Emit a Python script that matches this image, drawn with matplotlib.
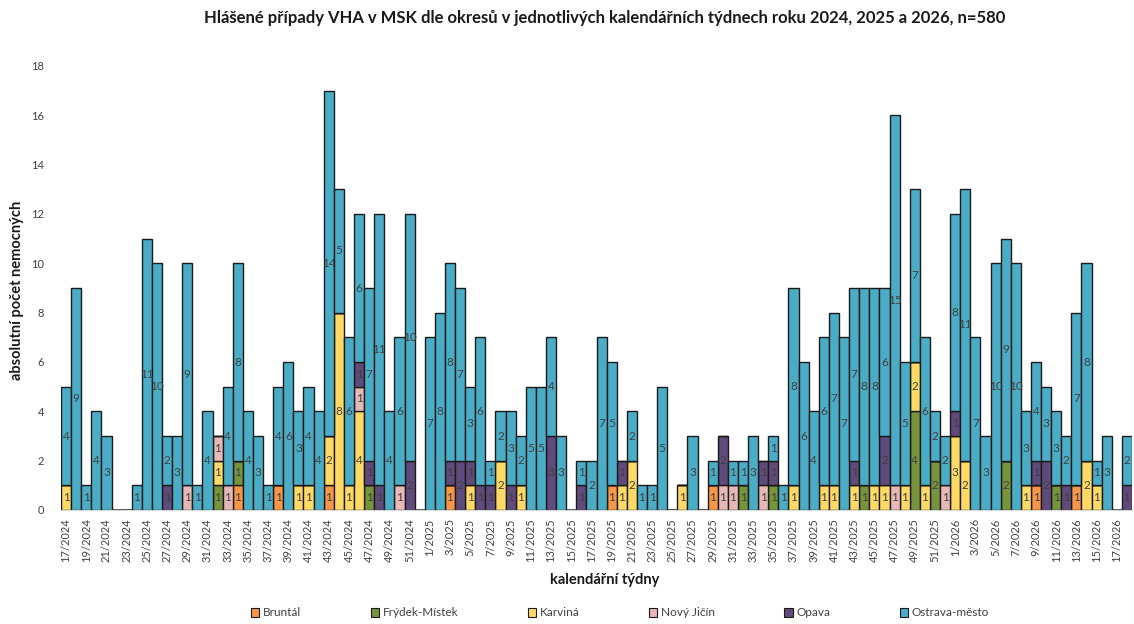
import matplotlib
matplotlib.use("Agg")
import matplotlib.pyplot as plt
from matplotlib.patches import Patch
import numpy as np

plt.rcParams['font.family'] = ['Lato', 'DejaVu Sans']

# ---- categories: weeks 17/2024 .. 18/2026 ----
weeks = ([f"{w}/2024" for w in range(17, 53)] +
         [f"{w}/2025" for w in range(1, 53)] +
         [f"{w}/2026" for w in range(1, 19)])

districts = ["Bruntál", "Frýdek-Místek", "Karviná", "Nový Jičín", "Opava", "Ostrava-město"]
colors = ["#F79646", "#77933C", "#FFD966", "#E6B9B8", "#604A7B", "#4BACC6"]

# ---- 2024, weeks 17..52 ----
bruntal_2024 = [0,0,0,0,0,0,0,0,0,0, 0,0,0,0,0,0,0,1,0,0, 0,1,0,0,0,0,1,0,0,0, 0,0,0,0,0,0]
frydek_2024  = [0,0,0,0,0,0,0,0,0,0, 0,0,0,0,0,1,0,1,0,0, 0,0,0,0,0,0,0,0,0,0, 1,0,0,0,0,0]
karvina_2024 = [1,0,0,0,0,0,0,0,0,0, 0,0,0,0,0,1,0,0,0,0, 0,0,0,1,1,0,2,8,1,4, 0,0,0,0,0,0]
novyjicin_2024 = [0,0,0,0,0,0,0,0,0,0, 0,0,1,0,0,1,1,0,0,0, 0,0,0,0,0,0,0,0,0,1, 0,0,0,1,0,0]
opava_2024   = [0,0,0,0,0,0,0,0,0,0, 1,0,0,0,0,0,0,0,0,0, 0,0,0,0,0,0,0,0,0,1, 1,1,0,0,2,0]
ostrava_2024 = [4,9,1,4,3,0,0,1,11,10, 2,3,9,1,4,0,4,8,4,3, 1,4,6,3,4,4,14,5,6,6, 7,11,4,6,10,0]

# ---- 2025, weeks 1..52 ----
bruntal_2025 = [0,0,1,0,0,0,0,0,0,0, 0,0,0,0,0,0,0,0,1,0, 0,0,0,0,0,0,0,0,1,0,
                0,0,0,0,0,0,0,0,0,0, 0,0,0,0,0,0,0,0,0,0, 0,0]
frydek_2025  = [0,0,0,0,0,0,0,0,0,0, 0,0,0,0,0,0,0,0,0,0, 0,0,0,0,0,0,0,0,0,0,
                0,1,0,0,1,0,0,0,0,0, 0,0,0,1,0,0,0,0,4,0, 2,0]
karvina_2025 = [0,0,0,0,1,0,0,2,0,1, 0,0,0,0,0,0,0,0,0,1, 2,0,0,0,0,1,0,0,0,0,
                0,0,0,0,0,0,1,0,0,1, 1,0,1,0,1,1,0,1,2,1, 0,0]
novyjicin_2025 = [0,0,0,0,0,0,0,0,0,0, 0,0,0,0,0,0,0,0,0,0, 0,0,0,0,0,0,0,0,0,1,
                  1,0,0,1,0,0,0,0,0,0, 0,0,0,0,0,0,1,0,0,0, 0,1]
opava_2025   = [0,0,1,2,1,1,1,0,1,0, 0,0,3,0,0,1,0,0,0,1, 0,0,0,0,0,0,0,0,0,2,
                0,0,0,1,1,0,0,0,0,0, 0,0,1,0,0,2,0,0,0,0, 0,0]
ostrava_2025 = [7,8,8,7,3,6,1,2,3,2, 5,5,4,3,0,1,2,7,5,0, 2,1,1,5,0,0,3,0,1,0,
                1,1,3,0,1,1,8,6,4,6, 7,7,7,8,8,6,15,5,7,6, 2,2]

# ---- 2026, weeks 1..18 ----
bruntal_2026 = [0,0,0,0,0,0,0,0,1,0, 0,0,1,0,0,0,0,0]
frydek_2026  = [0,0,0,0,0,2,0,0,0,0, 1,0,0,0,0,0,0,0]
karvina_2026 = [3,2,0,0,0,0,0,1,0,0, 0,0,0,2,1,0,0,0]
novyjicin_2026 = [0,0,0,0,0,0,0,0,0,0, 0,0,0,0,0,0,0,0]
opava_2026   = [1,0,0,0,0,0,0,0,1,2, 0,1,0,0,0,0,0,1]
ostrava_2026 = [8,11,7,3,10,9,10,3,4,3, 3,2,7,8,1,3,0,2]

series = [
    bruntal_2024 + bruntal_2025 + bruntal_2026,
    frydek_2024 + frydek_2025 + frydek_2026,
    karvina_2024 + karvina_2025 + karvina_2026,
    novyjicin_2024 + novyjicin_2025 + novyjicin_2026,
    opava_2024 + opava_2025 + opava_2026,
    ostrava_2024 + ostrava_2025 + ostrava_2026,
]

W, H = 1134, 624
fig = plt.figure(figsize=(W / 100, H / 100), dpi=100)
ax = fig.add_axes([61 / W, 114 / H, (1132 - 61) / W, (510 - 66) / H])

x = np.arange(len(weeks))
bottom = np.zeros(len(weeks))
for name, col, vals in zip(districts, colors, series):
    v = np.array(vals, dtype=float)
    ax.bar(x, v, width=1.0, bottom=bottom, color=col, edgecolor="#1a1a1a",
           linewidth=1.0, label=name)
    for xi, (b, val) in enumerate(zip(bottom, v)):
        if val > 0:
            ax.text(xi, b + val / 2, f"{int(val)}", ha="center", va="center",
                    fontsize=8.5, color="#404040")
    bottom = bottom + v

ax.set_xlim(-0.5, len(weeks) - 0.5)
ax.set_ylim(0, 18)
ax.set_yticks(range(0, 19, 2))
ax.set_xticks(x[::2])
ax.set_xticklabels(weeks[::2], rotation=90, fontsize=8, color="#404040")
ax.tick_params(axis="y", length=0, labelsize=8, labelcolor="#404040", pad=12)
ax.tick_params(axis="x", length=0, pad=6)
for s in ["top", "right", "left"]:
    ax.spines[s].set_visible(False)
ax.spines["bottom"].set_color("#D9D9D9")

fig.text(605 / W, 1 - 18 / H, "Hlášené případy VHA v MSK dle okresů v jednotlivých kalendářních týdnech roku 2024, 2025 a 2026, n=580",
         ha="center", va="center", fontsize=12, fontweight="bold", color="#1a1a1a")
fig.text(605 / W, 1 - 580 / H, "kalendářní týdny", ha="center", va="center",
         fontsize=10.5, fontweight="bold", color="#1a1a1a")
fig.text(17 / W, 1 - 290 / H, "absolutní počet nemocných", ha="center", va="center",
         rotation=90, fontsize=10.5, fontweight="bold", color="#1a1a1a")

handles = [Patch(facecolor=c, edgecolor="#1a1a1a", linewidth=0.8) for c in colors]
fig.legend(handles, districts, loc="center", bbox_to_anchor=(620 / W, 1 - 613 / H),
           ncol=6, frameon=False, fontsize=8.5, handlelength=0.7, handleheight=0.7,
           handletextpad=0.3, columnspacing=5.9, labelcolor="#404040")

fig.savefig("out.png", dpi=100)
